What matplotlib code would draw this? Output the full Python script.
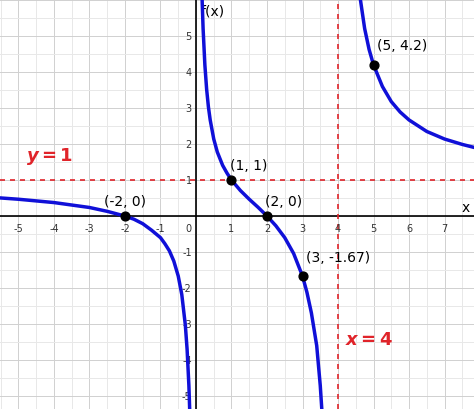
import matplotlib
matplotlib.use("Agg")
import matplotlib.pyplot as plt
import numpy as np

left_x = [-5.6, -5, -4, -3, -2.5, -2, -1.75, -1.5, -1.25, -1, -0.875, -0.75, -0.625, -0.5, -0.4, -0.3, -0.25, -0.2, -0.17]
left_y = [0.51, 0.467, 0.375, 0.238, 0.131, 0, -0.087, -0.212, -0.394, -0.6, -0.77, -0.965, -1.25, -1.667, -2.18, -3.03, -3.71, -4.71, -5.60]
mid_x = [0.15, 0.175, 0.2, 0.25, 0.3, 0.35, 0.4, 0.5, 0.6, 0.75, 0.875, 1, 1.25, 1.5, 1.75, 2, 2.25, 2.5, 2.75, 3, 3.125, 3.25, 3.4, 3.5, 3.6]
mid_y = [6.89, 5.93, 5.21, 4.2, 3.52, 3.03, 2.67, 2.14, 1.78, 1.41, 1.19, 1, 0.71, 0.467, 0.242, 0, -0.27, -0.6, -1.04, -1.667, -2.12, -2.69, -3.6, -4.71, -6.22]
right_x = [4.3, 4.4, 4.5, 4.625, 4.75, 4.875, 5, 5.25, 5.5, 5.75, 6, 6.5, 7, 7.5, 7.9]
right_y = [11.2, 8.4, 7.22, 6.05, 5.21, 4.63, 4.2, 3.6, 3.18, 2.89, 2.67, 2.35, 2.14, 1.99, 1.89]
pts_x = [-2, 1, 2, 3, 5]
pts_y = [0, 1, 0, -1.67, 4.2]
pts_lbl = ["(-2, 0)", "(1, 1)", "(2, 0)", "(3, -1.67)", "(5, 4.2)"]

fig = plt.figure(figsize=(4.74, 4.10), dpi=100)
ax = fig.add_axes([0, 0, 1, 1])
ax.set_xlim(-5.52, 7.83)
ax.set_ylim(-5.36, 6.03)
for v in np.arange(-5.5, 8, 0.5):
    ax.axvline(v, color="#e8e8e8" if v % 1 else "#d0d0d0", lw=0.7, zorder=0)
for v in np.arange(-5.5, 6.5, 0.5):
    ax.axhline(v, color="#e8e8e8" if v % 1 else "#d0d0d0", lw=0.7, zorder=0)
ax.axhline(0, color="black", lw=1.2, zorder=1)
ax.axvline(0, color="black", lw=1.2, zorder=1)
for s in ax.spines.values():
    s.set_visible(False)
ax.set_xticks([]); ax.set_yticks([])
for v in range(-5, 8):
    if v != 0:
        ax.text(v, -0.18, str(v), ha="center", va="top", fontsize=7, color="#333")
for v in range(-5, 6):
    if v != 0:
        ax.text(-0.12, v, str(v), ha="right", va="center", fontsize=7, color="#333")
ax.text(-0.12, -0.18, "0", ha="right", va="top", fontsize=7, color="#333")
ax.text(7.6, 0.05, "x", ha="center", va="bottom", fontsize=10)
ax.text(0.12, 5.9, "f(x)", ha="left", va="top", fontsize=10)

ax.axhline(1, color="#e0242a", lw=1.2, ls=(0, (3, 3)), zorder=2)
ax.axvline(4, color="#e0242a", lw=1.2, ls=(0, (3, 3)), zorder=2)
ax.text(-4.8, 1.55, "$\\boldsymbol{y = 1}$", color="#e0242a", fontsize=13)
ax.text(4.2, -3.55, "$\\boldsymbol{x = 4}$", color="#e0242a", fontsize=13)

for xs, ys in [(left_x, left_y), (mid_x, mid_y), (right_x, right_y)]:
    ax.plot(xs, ys, color="#1010d8", lw=2.5, zorder=3, solid_joinstyle="round")
ax.scatter(pts_x, pts_y, s=40, color="black", zorder=4)
offs = [(0, 0.22, "center"), (-0.05, 0.22, "left"), (-0.05, 0.22, "left"), (0.1, 0.35, "left"), (0.1, 0.35, "left")]
for x, y, l, (dx, dy, ha) in zip(pts_x, pts_y, pts_lbl, offs):
    ax.text(x + dx, y + dy, l, ha=ha, va="bottom", fontsize=10, zorder=5)
fig.savefig("out.png", dpi=100)
